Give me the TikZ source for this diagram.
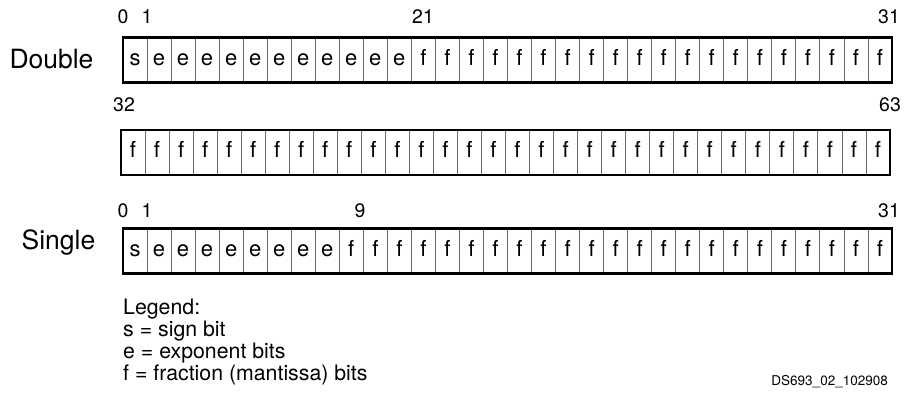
\documentclass[tikz,border=0pt]{standalone}
\usepackage{fontspec}
\setmainfont{TeX Gyre Heros}

\begin{document}
\begin{tikzpicture}[x=1pt,y=-1pt,
    bitcell/.style={draw=black!60,line width=0.8pt,minimum width=24.03pt,minimum height=45pt,
      inner sep=0pt,outer sep=0pt,text height=11pt,text depth=0pt,font=\fontsize{22}{26}\selectfont},
    bitframe/.style={draw=black,line width=2.6pt},
    bitnum/.style={anchor=base,inner sep=0pt,font=\fontsize{19.5}{23}\selectfont},
    rowname/.style={anchor=base,inner sep=0pt,font=\fontsize{26.5}{31}\selectfont},
    legend/.style={anchor=base west,inner sep=0pt,font=\fontsize{21.3}{25}\selectfont}]
    \useasboundingbox (0,0) rectangle (905,395);

    % Double, word 0 (bits 0-31)
    \foreach \i in {0,...,31} {
        \ifnum\i=0 \def\bitc{s}\else\ifnum\i<12 \def\bitc{e}\else\def\bitc{f}\fi\fi
        \node[bitcell] (dhi\i) at (135.02+\i*24.03,60) {\bitc};
    }
    \draw[bitframe] (dhi0.north west) rectangle (dhi31.south east);
    \node[rowname] (dname) at (51.5,69) {Double};
    \node[bitnum] (dn0) at (123,24) {0};
    \node[bitnum] (dn1) at (147,24) {1};
    \node[bitnum] (dn21) at (423,24) {21};
    \node[bitnum] (dn31) at (889,24) {31};

    % Double, word 1 (bits 32-63)
    \foreach \i in {0,...,31} {
        \node[bitcell] (dlo\i) at (133.02+\i*24.03,152.5) {f};
    }
    \draw[bitframe] (dlo0.north west) rectangle (dlo31.south east);
    \node[bitnum] (dn32) at (124,111.5) {32};
    \node[bitnum] (dn63) at (890,111.5) {63};

    % Single
    \foreach \i in {0,...,31} {
        \ifnum\i=0 \def\bitc{s}\else\ifnum\i<9 \def\bitc{e}\else\def\bitc{f}\fi\fi
        \node[bitcell] (s\i) at (135.02+\i*24.03,251) {\bitc};
    }
    \draw[bitframe] (s0.north west) rectangle (s31.south east);
    \node[rowname] (sname) at (58.5,250) {Single};
    \node[bitnum] (sn0) at (123,218) {0};
    \node[bitnum] (sn1) at (147,218) {1};
    \node[bitnum] (sn9) at (360,218) {9};
    \node[bitnum] (sn31) at (889,218) {31};

    % Legend
    \node[legend] (leg) at (123,315) {Legend:};
    \node[legend] (legs) at (123,336.7) {s = sign bit};
    \node[legend] (lege) at (123,358.4) {e = exponent bits};
    \node[legend] (legf) at (123,380) {f = fraction (mantissa) bits};
    \node[anchor=base east,inner sep=0pt,font=\fontsize{13.5}{16}\selectfont] (figid) at (888,385) {DS693\_02\_102908};
\end{tikzpicture}
\end{document}
